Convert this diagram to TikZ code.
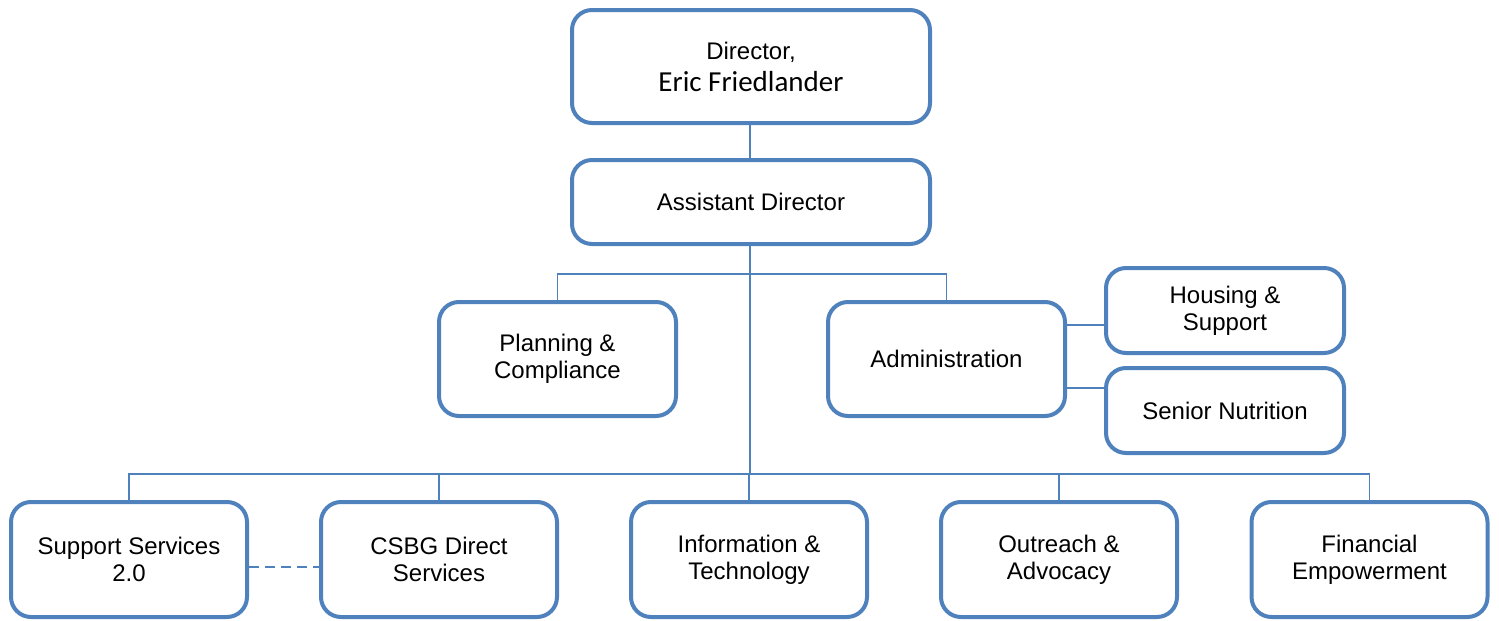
\documentclass[tikz,border=0pt]{standalone}
\usepackage{fontspec}
\setmainfont{Liberation Sans}
\newfontfamily\carlito{Carlito}
\definecolor{boxblue}{HTML}{4F81BD}
\begin{document}
\begin{tikzpicture}[x=1pt,y=-1pt,
  orgbox/.style={draw=boxblue, line width=4pt, rounded corners=20pt, fill=white,
    inner sep=0pt, align=center, font=\fontsize{24}{27}\selectfont},
  link/.style={draw=boxblue, line width=1.6pt}]
\useasboundingbox (0,0) rectangle (1499,621);
\node[orgbox, minimum width=358pt, minimum height=113pt] (dir) at (751,66.5)
  {Director,\\[5pt]{\carlito\fontsize{29}{30}\selectfont Eric Friedlander}};
\node[orgbox, minimum width=358pt, minimum height=84pt] (asst) at (751,202) {Assistant Director};
\node[orgbox, minimum width=237pt, minimum height=114pt] (plan) at (557.5,359) {Planning \&\\Compliance};
\node[orgbox, minimum width=237pt, minimum height=114pt] (admin) at (946.5,359) {Administration};
\node[orgbox, minimum width=238pt, minimum height=85pt] (house) at (1225,310.5) {Housing \&\\Support};
\node[orgbox, minimum width=238pt, minimum height=85pt] (senior) at (1225,410.5) {Senior Nutrition};
\node[orgbox, minimum width=236pt, minimum height=115pt] (ss) at (129,559.5) {Support Services\\2.0};
\node[orgbox, minimum width=236pt, minimum height=115pt] (csbg) at (439,559.5) {CSBG Direct\\Services};
\node[orgbox, minimum width=236pt, minimum height=115pt] (it) at (749,559.5) {Information \&\\Technology};
\node[orgbox, minimum width=236pt, minimum height=115pt] (out) at (1059,559.5) {Outreach \&\\Advocacy};
\node[orgbox, minimum width=236pt, minimum height=115pt] (fin) at (1369.5,559.5) {Financial\\Empowerment};
\coordinate (busA) at (750,274);
\coordinate (busB) at (750,474);
\coordinate (hl) at (0,325);
\coordinate (sl) at (0,388);
\coordinate (dl) at (0,567);
\path[link] (dir.south -| busA) -- (asst.north -| busA);
\path[link] (asst.south -| busA) -- (busB);
\path[link] (plan.north) |- (admin.north |- busA) -- (admin.north);
\path[link] (ss.north) |- (fin.north |- busB) -- (fin.north);
\path[link] (csbg.north) -- (csbg.north |- busB);
\path[link] (it.north) -- (it.north |- busB);
\path[link] (out.north) -- (out.north |- busB);
\path[link] (admin.east |- hl) -- (house.west |- hl);
\path[link] (admin.east |- sl) -- (senior.west |- sl);
\path[link, dash pattern=on 10pt off 6pt] (ss.east |- dl) -- (csbg.west |- dl);
\end{tikzpicture}
\end{document}
